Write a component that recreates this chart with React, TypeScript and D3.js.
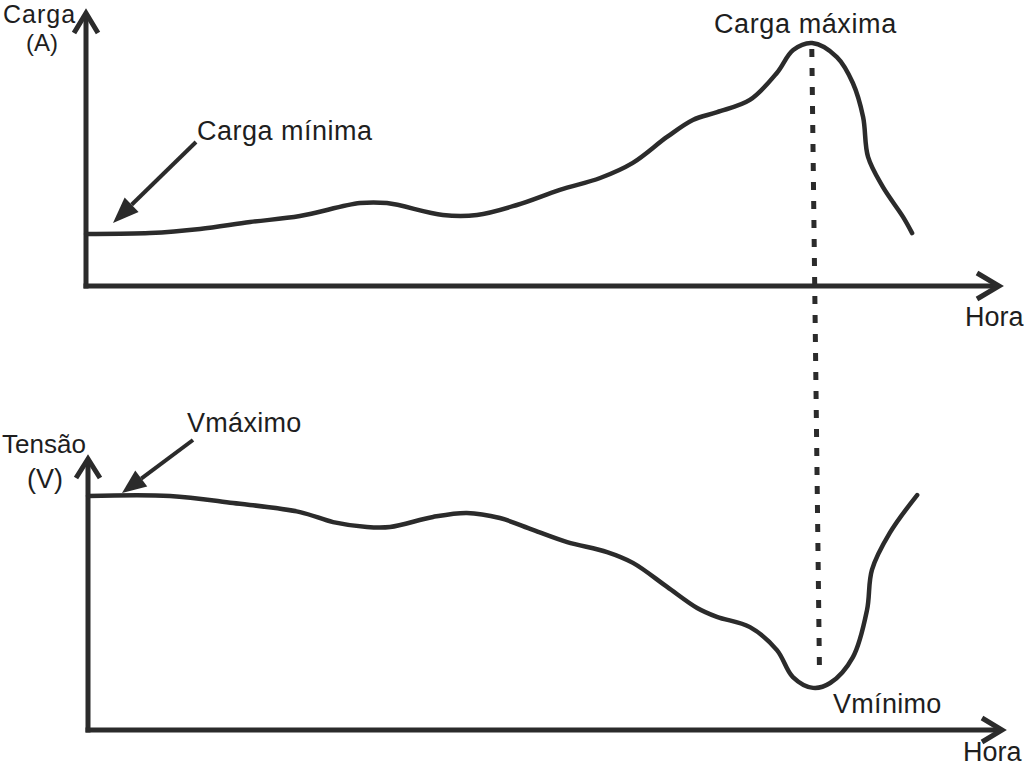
import React from "react";
import * as d3 from "d3";

// Load curve (top): hour of day vs. relative load (A)
const loadHours = [0, 1.68, 3.0, 4.32, 5.63, 7.21, 7.92, 9.39, 10.29, 11.34, 12.47, 13.53, 14.39, 15.29, 15.97, 16.61, 17.47, 18.18, 18.61, 19.11, 19.76, 20.18, 20.45, 20.58, 20.97, 21.5, 21.74];
const loadValues = [19.3, 19.6, 21.1, 23.7, 25.9, 30.7, 30.7, 26.3, 26.3, 30.0, 35.6, 40.0, 45.6, 55.2, 61.5, 64.4, 68.9, 78.9, 87.4, 90.0, 84.8, 75.2, 62.6, 47.8, 36.7, 25.6, 19.6];

// Voltage curve (bottom): hour of day vs. relative voltage (V)
const voltHours = [0, 2.16, 3.82, 5.58, 6.45, 7.34, 7.95, 9.08, 9.97, 10.84, 11.71, 12.61, 13.66, 14.34, 15.24, 16.03, 16.55, 17.42, 18.13, 18.55, 19.08, 19.53, 20.13, 20.5, 20.63, 21.1, 21.82];
const voltValues = [86.7, 86.7, 84.1, 80.7, 77.0, 75.2, 75.2, 78.9, 80.4, 78.5, 74.1, 69.6, 65.9, 61.9, 53.0, 45.2, 41.9, 38.1, 29.6, 19.6, 15.6, 17.4, 27.0, 44.4, 59.3, 73.0, 87.0];

// Link between peak load and minimum voltage
const peakHour = 19.1;
const peakLoad = 90;
const dashBottomHour = 19.25;
const dashBottomVolt = 21;

// Text labels
const topYLabel = ["Carga", "(A)"];
const bottomYLabel = ["Tensão", "(V)"];
const xLabel = "Hora";
const minLoadLabel = "Carga mínima";
const maxLoadLabel = "Carga máxima";
const maxVoltLabel = "Vmáximo";
const minVoltLabel = "Vmínimo";

const INK = "#2b2b2b";
const TXT = "#1e1e1e";
const FONT = "'Liberation Sans', Arial, sans-serif";

function chevron(tx: number, ty: number, dir: "up" | "right", back: number, half: number) {
  if (dir === "up") return `M${tx - half},${ty + back} L${tx},${ty} L${tx + half},${ty + back}`;
  return `M${tx - back},${ty - half} L${tx},${ty} L${tx - back},${ty + half}`;
}

function Pointer({ x1, y1, x2, y2, head, half }: { x1: number; y1: number; x2: number; y2: number; head: number; half: number }) {
  const dx = x2 - x1, dy = y2 - y1;
  const len = Math.hypot(dx, dy);
  const ux = dx / len, uy = dy / len;
  const bx = x2 - ux * head, by = y2 - uy * head;
  const px = -uy, py = ux;
  return (
    <g>
      <line x1={x1} y1={y1} x2={bx} y2={by} stroke={INK} strokeWidth={4} />
      <polygon points={`${x2},${y2} ${bx + px * half},${by + py * half} ${bx - px * half},${by - py * half}`} fill={INK} />
    </g>
  );
}

export default function App() {
  const W = 1024, H = 767;
  const xTop = d3.scaleLinear().domain([0, 24]).range([86, 998]);
  const yTop = d3.scaleLinear().domain([0, 100]).range([286, 16]);
  const xBot = d3.scaleLinear().domain([0, 24]).range([88, 1000]);
  const yBot = d3.scaleLinear().domain([0, 100]).range([730, 460]);

  const loadLine = d3.line<number>()
    .x((_, i) => xTop(loadHours[i]))
    .y((d) => yTop(d))
    .curve(d3.curveCatmullRom.alpha(0.5));
  const voltLine = d3.line<number>()
    .x((_, i) => xBot(voltHours[i]))
    .y((d) => yBot(d))
    .curve(d3.curveCatmullRom.alpha(0.5));

  const topOrigin = { x: xTop(0), y: yTop(0) };
  const botOrigin = { x: xBot(0), y: yBot(0) };

  const minLoadIdx = d3.minIndex(loadValues);
  const maxVoltIdx = 0; // Vmáximo annotated at the start of the day

  return (
    <svg width={W} height={H} viewBox={`0 0 ${W} ${H}`} style={{ position: "absolute", left: 0, top: 0, display: "block", background: "#fff" }}>
      <rect width={W} height={H} fill="#fff" />

      {/* Top chart axes */}
      <g fill="none" stroke={INK} strokeWidth={5} strokeLinecap="butt" strokeLinejoin="miter">
        <line x1={topOrigin.x} y1={topOrigin.y + 2.5} x2={topOrigin.x} y2={13} />
        <line x1={topOrigin.x - 2.5} y1={topOrigin.y} x2={999} y2={topOrigin.y} />
        <path d={chevron(topOrigin.x, 13, "up", 20, 12)} />
        <path d={chevron(999, topOrigin.y, "right", 22, 13)} />
      </g>

      {/* Bottom chart axes */}
      <g fill="none" stroke={INK} strokeWidth={5} strokeLinecap="butt" strokeLinejoin="miter">
        <line x1={botOrigin.x} y1={botOrigin.y + 2.5} x2={botOrigin.x} y2={459} />
        <line x1={botOrigin.x - 2.5} y1={botOrigin.y} x2={1002} y2={botOrigin.y} />
        <path d={chevron(botOrigin.x, 459, "up", 19, 12)} />
        <path d={chevron(1002, botOrigin.y, "right", 20, 12)} />
      </g>

      {/* Curves */}
      <path d={loadLine(loadValues) || ""} fill="none" stroke={INK} strokeWidth={4.5} strokeLinecap="round" strokeLinejoin="round" />
      <path d={voltLine(voltValues) || ""} fill="none" stroke={INK} strokeWidth={4.5} strokeLinecap="round" strokeLinejoin="round" />

      {/* Dashed link */}
      <line x1={xTop(peakHour)} y1={yTop(peakLoad) + 6} x2={xBot(dashBottomHour)} y2={yBot(dashBottomVolt)}
        stroke={INK} strokeWidth={5} strokeDasharray="8 11" />

      {/* Annotation pointers */}
      <Pointer x1={196} y1={142} x2={xTop(loadHours[minLoadIdx]) + 27} y2={yTop(loadValues[minLoadIdx]) - 11} head={26} half={10} />
      <Pointer x1={193} y1={440} x2={xBot(voltHours[maxVoltIdx]) + 34} y2={yBot(voltValues[maxVoltIdx]) - 3} head={24} half={10} />

      {/* Text */}
      <g fontFamily={FONT} fill={TXT} fontSize={27}>
        <text x={3} y={23} fontSize={25} letterSpacing={1}>{topYLabel[0]}</text>
        <text x={42} y={51} fontSize={24} textAnchor="middle">{topYLabel[1]}</text>
        <text x={2} y={453} fontSize={26}>{bottomYLabel[0]}</text>
        <text x={45} y={488} textAnchor="middle">{bottomYLabel[1]}</text>
        <text x={965} y={326}>{xLabel}</text>
        <text x={963} y={761}>{xLabel}</text>
        <text x={197} y={140} letterSpacing={0.5}>{minLoadLabel}</text>
        <text x={714} y={33} letterSpacing={0.6}>{maxLoadLabel}</text>
        <text x={187} y={432} letterSpacing={0.3}>{maxVoltLabel}</text>
        <text x={833} y={713} letterSpacing={0.3}>{minVoltLabel}</text>
      </g>
    </svg>
  );
}
